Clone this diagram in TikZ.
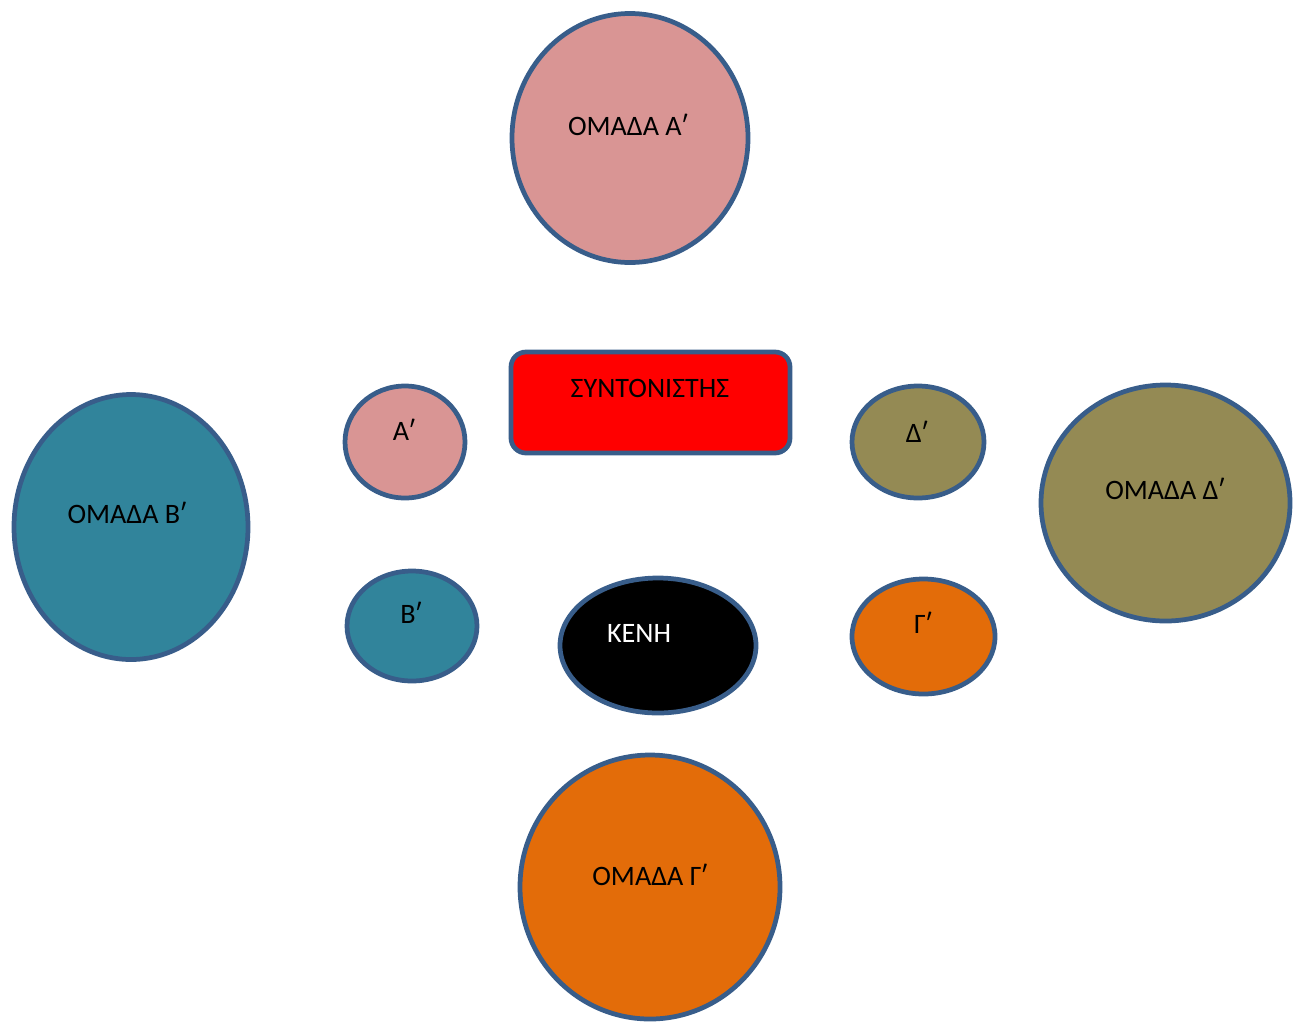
\documentclass[tikz,border=0pt]{standalone}
\usepackage{fontspec}
\setmainfont{Carlito}
\usepackage{tikz}
\usetikzlibrary{shapes}
\definecolor{outline}{RGB}{56,93,138}
\definecolor{pinkA}{RGB}{217,149,148}
\definecolor{tealB}{RGB}{49,132,155}
\definecolor{orangeG}{RGB}{227,108,9}
\definecolor{oliveD}{RGB}{148,138,84}
\tikzstyle{group} = [ellipse, draw=outline, line width=2.7pt, inner sep=0pt]
\tikzstyle{chief} = [rectangle, rounded corners=0.3cm, draw=outline, line width=2.7pt, fill=red, minimum width=5.58cm, minimum height=2.02cm]
\tikzstyle{caption} = [inner sep=0pt, font=\fontsize{16}{19}\selectfont]

\begin{document}
\begin{tikzpicture}
    \useasboundingbox (0,0) rectangle (26.02,-20.46);

    % big groups
    \node [group, fill=pinkA, minimum width=4.72cm, minimum height=4.98cm] (omadaA) at (12.6,-2.76) {};
    \node [group, fill=tealB, minimum width=4.68cm, minimum height=5.30cm] (omadaB) at (2.62,-10.54) {};
    \node [group, fill=oliveD, minimum width=4.98cm, minimum height=4.72cm] (omadaD) at (23.31,-10.06) {};
    \node [group, fill=orangeG, minimum width=5.2cm, minimum height=5.28cm] (omadaG) at (13.0,-17.74) {};

    % centre
    \node [chief] (syntonistis) at (13.01,-8.05) {};
    \node [group, fill=pinkA, minimum width=2.4cm, minimum height=2.24cm] (seatA) at (8.1,-8.84) {};
    \node [group, fill=tealB, minimum width=2.6cm, minimum height=2.2cm] (seatB) at (8.24,-12.52) {};
    \node [group, fill=oliveD, minimum width=2.64cm, minimum height=2.24cm] (seatD) at (18.36,-8.84) {};
    \node [group, fill=orangeG, minimum width=2.86cm, minimum height=2.3cm] (seatG) at (18.47,-12.73) {};
    \node [group, fill=black, minimum width=3.92cm, minimum height=2.7cm] (kenh) at (13.16,-12.91) {};

    % texts
    \node [caption] at (12.56,-2.5) {ΟΜΑΔΑ Αʹ};
    \node [caption] at (2.54,-10.26) {ΟΜΑΔΑ Βʹ};
    \node [caption] at (23.30,-9.78) {ΟΜΑΔΑ Δʹ};
    \node [caption] at (13.0,-17.5) {ΟΜΑΔΑ Γʹ};
    \node [caption] at (13.0,-7.76) {ΣΥΝΤΟΝΙΣΤΗΣ};
    \node [caption] at (8.08,-8.6) {Αʹ};
    \node [caption] at (8.22,-12.26) {Βʹ};
    \node [caption] at (18.34,-8.64) {Δʹ};
    \node [caption] at (18.46,-12.46) {Γʹ};
    \node [caption, text=white] at (12.78,-12.66) {ΚΕΝΗ};
\end{tikzpicture}
\end{document}
